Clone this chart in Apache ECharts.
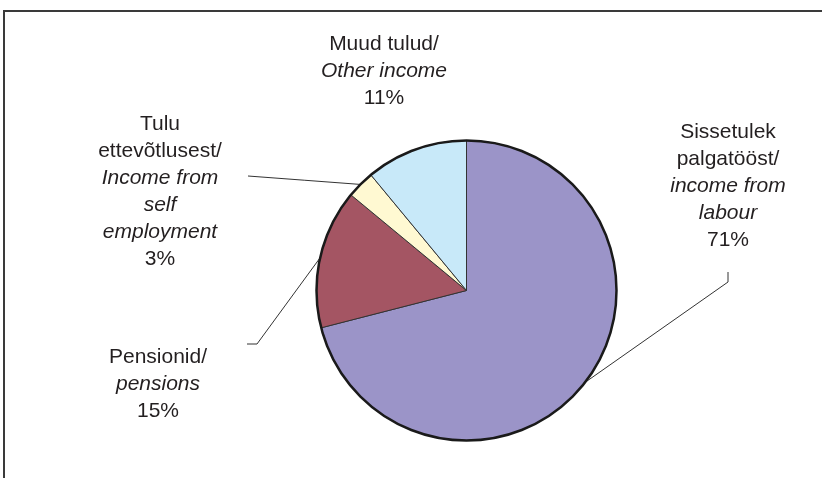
<!DOCTYPE html>
<html>
<head>
<meta charset="utf-8">
<script src="https://cdn.jsdelivr.net/npm/echarts@6/dist/echarts.min.js"></script>
<style>
html,body{margin:0;padding:0;background:#fff;}
#chart{width:822px;height:478px;}
</style>
</head>
<body>
<div id="chart"></div>
<script>
// ---- data ----
const namesEt = ['Sissetulek\npalgatööst/', 'Pensionid/', 'Tulu\nettevõtlusest/', 'Muud tulud/'];
const namesEn = ['income from\nlabour', 'pensions', 'Income from\nself\nemployment', 'Other income'];
const shares = [71, 15, 3, 11];
const colors = ['#9b94c8', '#a45563', '#fff9d2', '#c8e9f9'];

// ---- label placement (style) ----
const labelPlace = [
  { x: 728, y: 119, end: [[728, 282], [728, 272]] },
  { x: 158, y: 344, end: [[257, 344], [247, 344]] },
  { x: 160, y: 111, end: [null, [248, 176]] },
  { x: 384, y: 31, end: null }
];

const data = shares.map((v, i) => ({
  value: v,
  name: namesEt[i],
  itemStyle: { color: colors[i] },
  labelLine: { show: labelPlace[i].end !== null }
}));

const FONT = 'Liberation Sans, Arial, sans-serif';
const chart = echarts.init(document.getElementById('chart'), null, { renderer: 'canvas' });
chart.setOption({
  backgroundColor: '#ffffff',
  animation: false,
  graphic: [{
    type: 'polyline',
    shape: { points: [[4, 478], [4, 11], [822, 11]] },
    style: { stroke: '#3a3a3a', lineWidth: 2, fill: 'none' },
    silent: true
  }],
  series: [{
    type: 'pie',
    center: [466.5, 290.5],
    radius: 150,
    startAngle: 90,
    clockwise: true,
    data: data,
    itemStyle: { borderColor: '#333', borderWidth: 1 },
    label: {
      show: true,
      position: 'outside',
      fontFamily: FONT,
      fontSize: 21,
      color: '#231f20',
      lineHeight: 27,
      formatter: p => {
        const i = p.dataIndex;
        const et = namesEt[i].split('\n').map(s => '{n|' + s + '}').join('\n');
        const en = namesEn[i].split('\n').map(s => '{i|' + s + '}').join('\n');
        return et + '\n' + en + '\n{n|' + shares[i] + '%}';
      },
      rich: {
        n: { fontFamily: FONT, fontSize: 21, lineHeight: 27, color: '#231f20', align: 'center' },
        i: { fontFamily: FONT, fontSize: 21, lineHeight: 27, color: '#231f20', fontStyle: 'italic', align: 'center' }
      }
    },
    labelLine: { show: true, lineStyle: { color: '#333', width: 1 } },
    labelLayout: params => {
      const lp = labelPlace[params.dataIndex];
      const out = { x: lp.x, y: lp.y, align: 'center', verticalAlign: 'top', hideOverlap: false, moveOverlap: null };
      if (lp.end && params.labelLinePoints) {
        const p0 = params.labelLinePoints[0];
        const p2 = lp.end[1];
        const p1 = lp.end[0] || [(p0[0] + p2[0]) / 2, (p0[1] + p2[1]) / 2];
        out.labelLinePoints = [p0, p1, p2];
      }
      return out;
    },
    emphasis: { disabled: true }
  }, {
    type: 'pie',
    center: [466.5, 290.5],
    radius: 150,
    silent: true,
    z: 3,
    data: [{ value: 1, name: 'outline' }],
    itemStyle: { color: 'rgba(0,0,0,0)', borderColor: '#1a1a1a', borderWidth: 2.5 },
    label: { show: false },
    labelLine: { show: false },
    emphasis: { disabled: true }
  }]
});
</script>
</body>
</html>
